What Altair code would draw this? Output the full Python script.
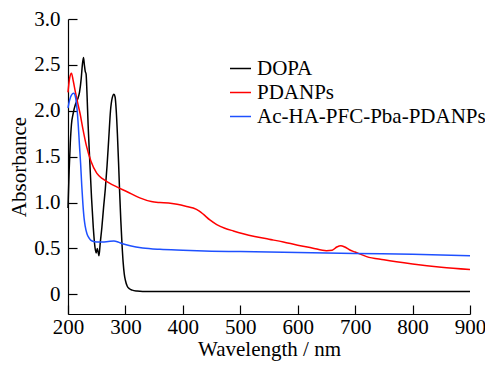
import altair as alt
import pandas as pd

# ---- data ----
dopa_wl = [200, 202, 204, 206, 209, 213, 217, 220, 223, 225, 227, 228.5, 230, 231.5, 233,
           235, 238, 241, 244, 247, 249, 251, 252.5, 254, 256, 259, 262, 265, 268, 271, 274,
           277, 280, 282, 284, 286, 288, 290, 292, 294, 296, 298, 300, 303, 307, 312, 320,
           330, 350, 400, 500, 600, 700, 800, 900]
dopa_abs = [0.94, 1.35, 1.65, 1.85, 1.97, 2.07, 2.13, 2.2, 2.35, 2.5, 2.58, 2.5, 2.43, 2.40, 2.2,
            1.85, 1.44, 1.05, 0.73, 0.51, 0.45, 0.5, 0.46, 0.42, 0.55, 0.73, 0.95, 1.15, 1.40,
            1.70, 2.0, 2.14, 2.18, 2.15, 2.0, 1.75, 1.44, 1.1, 0.8, 0.55, 0.35, 0.22, 0.15, 0.09,
            0.06, 0.045, 0.035, 0.03, 0.03, 0.03, 0.03, 0.03, 0.03, 0.03, 0.03]

pda_wl = [200, 203, 206, 209, 213, 217, 221, 226, 232, 240, 250, 260, 270, 285, 302, 325, 345,
          360, 375, 390, 405, 418, 428, 436, 447, 459, 473, 488, 505, 525, 550, 575, 600, 625,
          650, 660, 668, 675, 682, 690, 700, 720, 750, 800, 850, 900]
pda_abs = [2.2, 2.36, 2.41, 2.33, 2.2, 2.08, 1.97, 1.8, 1.62, 1.45, 1.32, 1.26, 1.22, 1.17, 1.12,
           1.05, 1.01, 1.0, 0.995, 0.98, 0.96, 0.94, 0.91, 0.87, 0.81, 0.76, 0.72, 0.69, 0.66,
           0.63, 0.6, 0.57, 0.535, 0.505, 0.475, 0.48, 0.515, 0.53, 0.515, 0.485, 0.46, 0.41,
           0.375, 0.33, 0.295, 0.27]

ac_wl = [200, 203, 206, 210, 213, 216, 218, 220, 222, 224, 226, 228, 230, 233, 237, 242, 250,
         260, 270, 280, 287, 295, 310, 330, 360, 400, 450, 500, 600, 700, 800, 900]
ac_abs = [2.03, 2.12, 2.17, 2.19, 2.15, 2.0, 1.83, 1.62, 1.42, 1.18, 0.98, 0.83, 0.74, 0.66,
          0.61, 0.58, 0.57, 0.57, 0.575, 0.58, 0.57, 0.55, 0.525, 0.505, 0.49, 0.48, 0.47,
          0.465, 0.455, 0.445, 0.435, 0.42]

series_names = ["DOPA", "PDANPs", "Ac-HA-PFC-Pba-PDANPs"]
series_colors = ["#000000", "#ff0000", "#1e50ff"]
x_ticks = [200, 300, 400, 500, 600, 700, 800, 900]
y_ticks = [0, 0.5, 1.0, 1.5, 2.0, 2.5, 3.0]

frames = []
for name, wl, ab in zip(series_names, [dopa_wl, pda_wl, ac_wl], [dopa_abs, pda_abs, ac_abs]):
    frames.append(pd.DataFrame({"wl": wl, "abs": ab, "series": name}))
df = pd.concat(frames, ignore_index=True)

W, H = 402, 295
FONT = "Liberation Serif, Times New Roman, serif"
FS = 21

xscale = alt.Scale(domain=[200, 900], nice=False, zero=False)
yscale = alt.Scale(domain=[-0.215, 3.0], nice=False, zero=False)

text_style = dict(labelFont=FONT, labelFontSize=FS, labelColor="black",
                  titleFont=FONT, titleFontSize=FS, titleColor="black", titleFontWeight="normal",
                  domainColor="black", domainWidth=1.2, tickColor="black", tickWidth=1.2,
                  grid=False, labelFlush=False, labelOverlap=False, labelBound=False)

lines = alt.Chart(df).mark_line(strokeWidth=1.5, interpolate="monotone").encode(
    x=alt.X("wl:Q", scale=xscale,
            axis=alt.Axis(orient="bottom", values=x_ticks, tickSize=0, labelPadding=2,
                          title="Wavelength / nm", titlePadding=1, **text_style)),
    y=alt.Y("abs:Q", scale=yscale,
            axis=alt.Axis(orient="left", values=y_ticks, tickSize=0, labelPadding=8,
                          labelExpr="datum.value == 0 ? '0' : format(datum.value, '.1f')",
                          title="Absorbance", titlePadding=4, **text_style)),
    color=alt.Color("series:N",
                    scale=alt.Scale(domain=series_names, range=series_colors),
                    legend=alt.Legend(title=None, orient="none", legendX=161, legendY=38,
                                      symbolType="stroke", symbolSize=441,
                                      symbolStrokeWidth=1.5, labelOffset=5,
                                      labelFont=FONT, labelFontSize=FS, labelColor="black",
                                      labelLimit=0, rowPadding=2, padding=0)),
    order=alt.Order("wl:Q"),
)

ticks = alt.Chart(df).mark_point(opacity=0).encode(
    x=alt.X("wl:Q", scale=xscale,
            axis=alt.Axis(orient="top", offset=-H, values=x_ticks, tickSize=9, labels=False,
                          domain=False, title=None, grid=False, tickColor="black", tickWidth=1.2)),
    y=alt.Y("abs:Q", scale=yscale,
            axis=alt.Axis(orient="right", offset=-W, values=y_ticks, tickSize=9, labels=False,
                          domain=False, title=None, grid=False, tickColor="black", tickWidth=1.2)),
)

chart = alt.layer(lines, ticks).resolve_axis(x="independent", y="independent").properties(
    width=W, height=H,
    autosize=alt.AutoSizeParams(type="none"),
    padding={"left": 60, "top": 11, "right": 15, "bottom": 48},
).configure_view(stroke=None)

chart.save("out.html", embed_options={"renderer": "svg", "actions": False})
